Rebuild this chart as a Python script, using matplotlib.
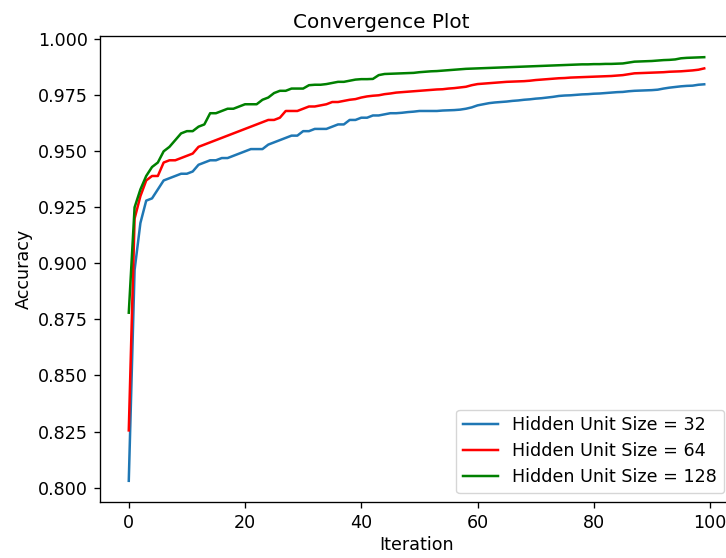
import matplotlib
matplotlib.use("Agg")
import matplotlib.pyplot as plt
import numpy as np

iterations = list(range(100))

acc_32 = [
    0.803, 0.897, 0.918, 0.928, 0.929, 0.933, 0.937, 0.938, 0.939, 0.940,
    0.940, 0.941, 0.944, 0.945, 0.946, 0.946, 0.947, 0.947, 0.948, 0.949,
    0.950, 0.951, 0.951, 0.951, 0.953, 0.954, 0.955, 0.956, 0.957, 0.957,
    0.959, 0.959, 0.960, 0.960, 0.960, 0.961, 0.962, 0.962, 0.964, 0.964,
    0.965, 0.965, 0.966, 0.966, 0.9665, 0.967, 0.967, 0.9672, 0.9675, 0.9677,
    0.968, 0.968, 0.968, 0.968, 0.9682, 0.9683, 0.9684, 0.9686, 0.969, 0.9696,
    0.9705, 0.971, 0.9715, 0.9718, 0.972, 0.9722, 0.9725, 0.9727, 0.973, 0.9732,
    0.9735, 0.9737, 0.974, 0.9743, 0.9747, 0.9749, 0.975, 0.9752, 0.9754, 0.9755,
    0.9757, 0.9758, 0.976, 0.9762, 0.9764, 0.9765, 0.9768, 0.977, 0.9771, 0.9772,
    0.9773, 0.9775, 0.978, 0.9784, 0.9787, 0.979, 0.9792, 0.9793, 0.9797, 0.9799,
]

acc_64 = [
    0.8255, 0.920, 0.930, 0.937, 0.939, 0.939, 0.945, 0.946, 0.946, 0.947,
    0.948, 0.949, 0.952, 0.953, 0.954, 0.955, 0.956, 0.957, 0.958, 0.959,
    0.960, 0.961, 0.962, 0.963, 0.964, 0.964, 0.965, 0.968, 0.968, 0.968,
    0.969, 0.970, 0.970, 0.9705, 0.971, 0.972, 0.972, 0.9725, 0.973, 0.9733,
    0.974, 0.9745, 0.9748, 0.975, 0.9755, 0.9758, 0.9762, 0.9764, 0.9766, 0.9768,
    0.977, 0.9772, 0.9774, 0.9776, 0.9777, 0.978, 0.9782, 0.9785, 0.9788, 0.9795,
    0.980, 0.9802, 0.9804, 0.9806, 0.9808, 0.981, 0.9811, 0.9812, 0.9813, 0.9815,
    0.9818, 0.982, 0.9822, 0.9824, 0.9826, 0.9827, 0.9829, 0.983, 0.9831, 0.9832,
    0.9833, 0.9834, 0.9835, 0.9836, 0.9838, 0.984, 0.9844, 0.9848, 0.9849, 0.985,
    0.9851, 0.9852, 0.9853, 0.9855, 0.9856, 0.9857, 0.9859, 0.9861, 0.9864, 0.987,
]

acc_128 = [
    0.878, 0.925, 0.933, 0.939, 0.943, 0.945, 0.950, 0.952, 0.955, 0.958,
    0.959, 0.959, 0.961, 0.962, 0.967, 0.967, 0.968, 0.969, 0.969, 0.970,
    0.971, 0.971, 0.971, 0.973, 0.974, 0.976, 0.977, 0.977, 0.978, 0.978,
    0.978, 0.9795, 0.9797, 0.9797, 0.980, 0.9805, 0.981, 0.981, 0.9815, 0.982,
    0.9822, 0.9822, 0.9823, 0.984, 0.9845, 0.9846, 0.9847, 0.9848, 0.9849, 0.985,
    0.9853, 0.9855, 0.9857, 0.9858, 0.986, 0.9862, 0.9864, 0.9866, 0.9868, 0.9869,
    0.987, 0.9871, 0.9872, 0.9873, 0.9874, 0.9875, 0.9876, 0.9877, 0.9878, 0.9879,
    0.988, 0.9881, 0.9882, 0.9883, 0.9884, 0.9885, 0.9886, 0.9887, 0.9888, 0.9888,
    0.9889, 0.9889, 0.989, 0.989, 0.9891, 0.9892, 0.9896, 0.990, 0.9901, 0.9902,
    0.9903, 0.9905, 0.9907, 0.9908, 0.991, 0.9915, 0.9917, 0.9918, 0.9919, 0.992,
]

labels = ["Hidden Unit Size = 32", "Hidden Unit Size = 64", "Hidden Unit Size = 128"]
colors = ["#1f77b4", "red", "green"]

s = 1.2
plt.rcParams.update({
    "font.size": 12.6,
    "lines.linewidth": 1.5 * s,
    "axes.linewidth": 0.8 * s,
    "xtick.major.size": 3.5 * s,
    "ytick.major.size": 3.5 * s,
    "xtick.major.width": 0.8 * s,
    "ytick.major.width": 0.8 * s,
    "xtick.major.pad": 3.5 * s,
    "ytick.major.pad": 3.5 * s,
    "legend.labelspacing": 0.45,
})

fig = plt.figure(figsize=(7.26, 5.58), dpi=100)
W, H = 726, 558
ax = fig.add_axes([100 / W, (H - 502) / H, 633 / W, 466 / H])

for ys, lab, c in zip([acc_32, acc_64, acc_128], labels, colors):
    ax.plot(iterations, ys, color=c, label=lab)

ax.set_xticks([0, 20, 40, 60, 80, 100])
ax.set_yticks([0.800, 0.825, 0.850, 0.875, 0.900, 0.925, 0.950, 0.975, 1.000])
ax.set_yticklabels([f"{v:.3f}" for v in ax.get_yticks()])
ax.set_xlabel("Iteration", labelpad=3)
ax.set_ylabel("Accuracy")
ax.set_title("Convergence Plot", x=0.444, fontsize=14.4)
ax.legend(loc="lower right")

fig.savefig("out.png", dpi=100)
